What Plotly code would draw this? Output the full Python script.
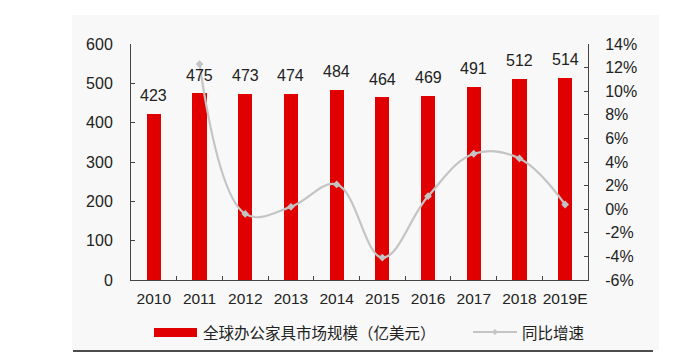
import plotly.graph_objects as go

years = ["2010", "2011", "2012", "2013", "2014", "2015", "2016", "2017", "2018", "2019E"]
market_size = [423, 475, 473, 474, 484, 464, 469, 491, 512, 514]
growth_years = ["2011", "2012", "2013", "2014", "2015", "2016", "2017", "2018", "2019E"]
growth_pct = [12.3, -0.4, 0.2, 2.1, -4.1, 1.1, 4.7, 4.3, 0.4]
left_ticks = [0, 100, 200, 300, 400, 500, 600]
right_ticks = [-6, -4, -2, 0, 2, 4, 6, 8, 10, 12, 14]
right_tick_labels = ["-6%", "-4%", "-2%", "0%", "2%", "4%", "6%", "8%", "10%", "12%", "14%"]
bar_name = "全球办公家具市场规模（亿美元）"
line_name = "同比增速"

RED = "#e00000"
GREY = "#c4c4c4"
AX = "#444444"
NUM_FONT = "Arial, Liberation Sans, sans-serif"
CJK_FONT = "Noto Sans CJK SC, sans-serif"

# page body has an 8px margin; compensate so the figure fills the window
OFF = 8
W, H = 691, 361
# plot area in page pixels
L, R, T, B = 131, 588, 44, 280
def px(x):
    return (x - L) / (R - L)
def py(y):
    return (B - y) / (B - T)

fig = go.Figure()
fig.add_trace(go.Bar(
    x=years, y=market_size, name=bar_name, marker_color=RED,
    marker_line_width=0, width=0.31, showlegend=False, yaxis="y"))
fig.add_trace(go.Scatter(
    x=growth_years, y=growth_pct, name=line_name, mode="lines+markers",
    line=dict(color=GREY, width=2.2, shape="spline", smoothing=1.1),
    marker=dict(symbol="diamond", size=6, color=GREY),
    showlegend=False, yaxis="y2", cliponaxis=False))

annotations = []
for i, v in enumerate(market_size):
    annotations.append(dict(x=i, y=v, xref="x", yref="y", text=str(v),
                            showarrow=False, yshift=18,
                            font=dict(family=NUM_FONT, size=16, color="#222222")))

# custom legend texts
annotations.append(dict(x=px(201), y=py(332), xref="paper", yref="paper",
                        text=bar_name, showarrow=False, xanchor="left", yanchor="middle",
                        font=dict(family=CJK_FONT, size=15.5, color="#222222")))
annotations.append(dict(x=px(520), y=py(332), xref="paper", yref="paper",
                        text=line_name, showarrow=False, xanchor="left", yanchor="middle",
                        font=dict(family=CJK_FONT, size=15.5, color="#222222")))

shapes = [
    dict(type="rect", xref="paper", yref="paper", x0=px(72), x1=px(659), y0=py(350), y1=py(15),
         fillcolor="#f8f8f8", line=dict(width=0), layer="below"),
    dict(type="line", xref="paper", yref="paper", x0=px(73), x1=px(653), y0=py(351), y1=py(351),
         line=dict(color="#111111", width=1.5)),
    dict(type="rect", xref="paper", yref="paper", x0=px(154), x1=px(197), y0=py(337), y1=py(328),
         fillcolor=RED, line=dict(width=0)),
    dict(type="line", xref="paper", yref="paper", x0=px(473), x1=px(517), y0=py(332), y1=py(332),
         line=dict(color=GREY, width=2)),
    dict(type="path", xref="paper", yref="paper",
         path=f"M {px(492)} {py(332)} L {px(495)} {py(329)} L {px(498)} {py(332)} L {px(495)} {py(335)} Z",
         fillcolor=GREY, line=dict(width=0)),
]

fig.update_layout(
    width=W - OFF, height=H - OFF,
    margin=dict(l=L - OFF, r=W - R, t=T - OFF, b=H - B, pad=0),
    paper_bgcolor="white", plot_bgcolor="rgba(0,0,0,0)",
    bargap=0.0, showlegend=False,
    font=dict(family=NUM_FONT, size=16, color="#222222"),
    xaxis=dict(type="category", categoryorder="array", categoryarray=years,
               range=[-0.5, len(years) - 0.5],
               showline=True, linecolor=AX, linewidth=1,
               ticks="inside", ticklen=4, tickcolor=AX, tickson="boundaries",
               showgrid=False, tickangle=0,
               tickfont=dict(family=NUM_FONT, size=15.5, color="#222222"),
               ticklabelstandoff=4),
    yaxis=dict(range=[0, 600], tickvals=left_ticks, showline=True, linecolor=AX, linewidth=1,
               ticks="inside", ticklen=4, tickcolor=AX, showgrid=False, zeroline=False,
               tickfont=dict(family=NUM_FONT, size=16, color="#222222"),
               ticklabelstandoff=14),
    yaxis2=dict(range=[-6, 14], tickvals=right_ticks, ticktext=right_tick_labels,
                overlaying="y", side="right",
                showline=True, linecolor=AX, linewidth=1, ticks="inside", ticklen=4, tickcolor=AX,
                showgrid=False, zeroline=False,
                tickfont=dict(family=NUM_FONT, size=16, color="#222222"),
                ticklabelstandoff=13),
    annotations=annotations,
    shapes=shapes,
)

fig.write_html("out.html")
